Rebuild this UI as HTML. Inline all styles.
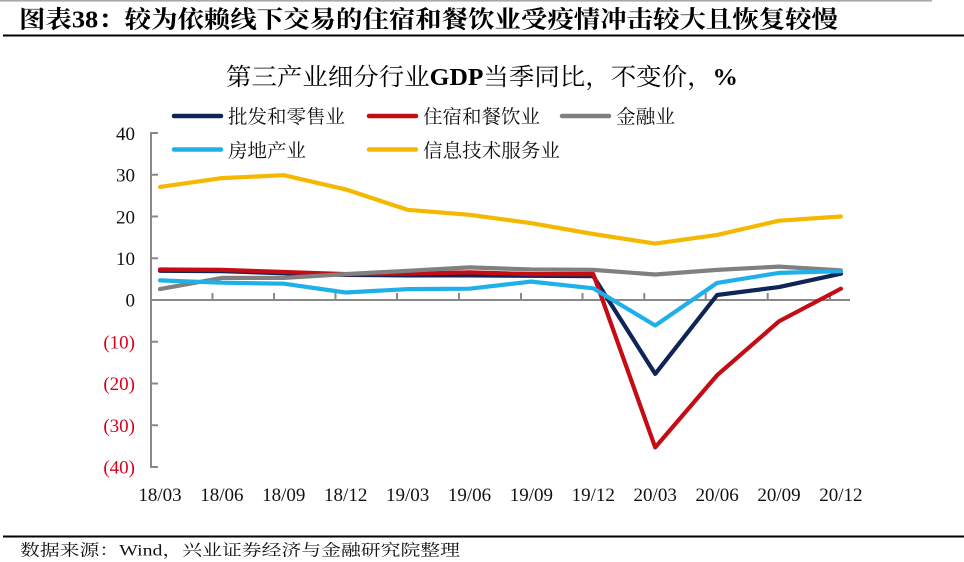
<!DOCTYPE html>
<html>
<head>
<meta charset="utf-8">
<style>
html,body{margin:0;padding:0;background:#fff;}
body{width:964px;height:562px;overflow:hidden;}
svg{display:block;}
</style>
</head>
<body>
<svg width="964" height="562" viewBox="0 0 964 562" xmlns="http://www.w3.org/2000/svg">
  <rect x="0" y="0" width="964" height="562" fill="#fff"/>
  <!-- top gray line -->
  <rect x="0" y="0" width="932" height="1.6" fill="#a8a8a8"/>
  <!-- header -->
  <text x="19" y="27.5" font-family="'Liberation Serif','Noto Serif CJK SC',serif" font-weight="bold" font-size="24" fill="#000" textLength="819" lengthAdjust="spacingAndGlyphs">图表38：较为依赖线下交易的住宿和餐饮业受疫情冲击较大且恢复较慢</text>
  <rect x="3" y="34.5" width="961" height="2" fill="#000"/>

  <!-- chart title -->
  <text x="226" y="85" font-family="'Liberation Serif','Noto Serif CJK SC',serif" font-size="24" fill="#000" textLength="512" lengthAdjust="spacingAndGlyphs">第三产业细分行业<tspan font-weight="bold">GDP</tspan>当季同比，不变价，<tspan font-weight="bold">%</tspan></text>

  <!-- legend -->
  <g stroke-width="4.5" stroke-linecap="round">
    <line x1="174" y1="116" x2="221" y2="116" stroke="#0f2557"/>
    <line x1="369" y1="116" x2="416" y2="116" stroke="#c40c14"/>
    <line x1="562" y1="116" x2="609" y2="116" stroke="#808080"/>
    <line x1="174" y1="149.5" x2="221" y2="149.5" stroke="#1fb0ea"/>
    <line x1="369" y1="149.5" x2="416" y2="149.5" stroke="#f5b800"/>
  </g>
  <g font-family="'Liberation Serif','Noto Serif CJK SC',serif" font-size="19" fill="#111">
    <text x="228" y="123" textLength="117" lengthAdjust="spacingAndGlyphs">批发和零售业</text>
    <text x="423" y="123" textLength="117" lengthAdjust="spacingAndGlyphs">住宿和餐饮业</text>
    <text x="616" y="123" textLength="59" lengthAdjust="spacingAndGlyphs">金融业</text>
    <text x="228" y="157" textLength="78" lengthAdjust="spacingAndGlyphs">房地产业</text>
    <text x="423" y="157" textLength="137" lengthAdjust="spacingAndGlyphs">信息技术服务业</text>
  </g>

  <!-- axes -->
  <g stroke="#888" stroke-width="2" fill="none">
    <line x1="151" y1="132" x2="151" y2="468"/>
    <line x1="150" y1="300" x2="850" y2="300"/>
    <!-- y ticks -->
    <line x1="151" y1="133" x2="158" y2="133"/>
    <line x1="151" y1="174.75" x2="158" y2="174.75"/>
    <line x1="151" y1="216.5" x2="158" y2="216.5"/>
    <line x1="151" y1="258.25" x2="158" y2="258.25"/>
    <line x1="151" y1="341.75" x2="158" y2="341.75"/>
    <line x1="151" y1="383.5" x2="158" y2="383.5"/>
    <line x1="151" y1="425.25" x2="158" y2="425.25"/>
    <line x1="151" y1="467" x2="158" y2="467"/>
    <!-- x ticks -->
    <line x1="212.5" y1="300" x2="212.5" y2="293"/>
    <line x1="274" y1="300" x2="274" y2="293"/>
    <line x1="335.5" y1="300" x2="335.5" y2="293"/>
    <line x1="397" y1="300" x2="397" y2="293"/>
    <line x1="459" y1="300" x2="459" y2="293"/>
    <line x1="521" y1="300" x2="521" y2="293"/>
    <line x1="582.5" y1="300" x2="582.5" y2="293"/>
    <line x1="644.3" y1="300" x2="644.3" y2="293"/>
    <line x1="705.7" y1="300" x2="705.7" y2="293"/>
    <line x1="767.7" y1="300" x2="767.7" y2="293"/>
    <line x1="830" y1="300" x2="830" y2="293"/>
  </g>

  <!-- y labels -->
  <g font-family="'Liberation Serif',serif" font-size="19" text-anchor="end">
    <text x="135" y="140" fill="#111">40</text>
    <text x="135" y="181.5" fill="#111">30</text>
    <text x="135" y="223.3" fill="#111">20</text>
    <text x="135" y="265" fill="#111">10</text>
    <text x="135" y="306.7" fill="#111">0</text>
    <text x="135" y="348.4" fill="#d9001b">(10)</text>
    <text x="135" y="390.2" fill="#d9001b">(20)</text>
    <text x="135" y="432" fill="#d9001b">(30)</text>
    <text x="135" y="473.7" fill="#d9001b">(40)</text>
  </g>

  <!-- x labels -->
  <g font-family="'Liberation Serif',serif" font-size="19" text-anchor="middle" fill="#111">
    <text x="160" y="501">18/03</text>
    <text x="221.9" y="501">18/06</text>
    <text x="283.8" y="501">18/09</text>
    <text x="345.7" y="501">18/12</text>
    <text x="407.6" y="501">19/03</text>
    <text x="469.5" y="501">19/06</text>
    <text x="531.4" y="501">19/09</text>
    <text x="593.3" y="501">19/12</text>
    <text x="655.2" y="501">20/03</text>
    <text x="717.1" y="501">20/06</text>
    <text x="779" y="501">20/09</text>
    <text x="840.9" y="501">20/12</text>
  </g>

  <!-- series -->
  <g fill="none" stroke-width="4.2" stroke-linejoin="round" stroke-linecap="round">
    <polyline stroke="#0f2557" points="160,270.8 221.9,271.2 283.8,273.3 345.7,274.9 407.6,275.4 469.5,275.4 531.4,275.8 593.3,276.2 655.2,373.9 717.1,295.0 779,287.1 840.9,273.7"/>
    <polyline stroke="#c40c14" points="160,269.5 221.9,269.9 283.8,272.0 345.7,274.1 407.6,273.7 469.5,272.4 531.4,274.1 593.3,274.1 655.2,447.4 717.1,375.2 779,321.3 840.9,288.7"/>
    <polyline stroke="#808080" points="160,289.1 221.9,277.9 283.8,277.9 345.7,274.1 407.6,270.8 469.5,267.4 531.4,269.5 593.3,269.9 655.2,274.5 717.1,269.9 779,266.6 840.9,270.4"/>
    <polyline stroke="#1fb0ea" points="160,280.4 221.9,282.7 283.8,283.7 345.7,292.5 407.6,289.1 469.5,288.7 531.4,281.6 593.3,288.3 655.2,325.5 717.1,282.9 779,272.9 840.9,271.2"/>
    <polyline stroke="#f5b800" points="160,186.9 221.9,178.1 283.8,175.2 345.7,189.4 407.6,209.8 469.5,214.8 531.4,223.2 593.3,234.0 655.2,243.6 717.1,234.9 779,220.7 840.9,216.5"/>
  </g>

  <!-- footer -->
  <rect x="3" y="535.5" width="961" height="2" fill="#000"/>
  <text x="20" y="555.5" font-family="'Liberation Serif','Noto Serif CJK SC',serif" font-size="16" fill="#111" textLength="440" lengthAdjust="spacingAndGlyphs">数据来源：Wind，兴业证券经济与金融研究院整理</text>
</svg>
</body>
</html>
